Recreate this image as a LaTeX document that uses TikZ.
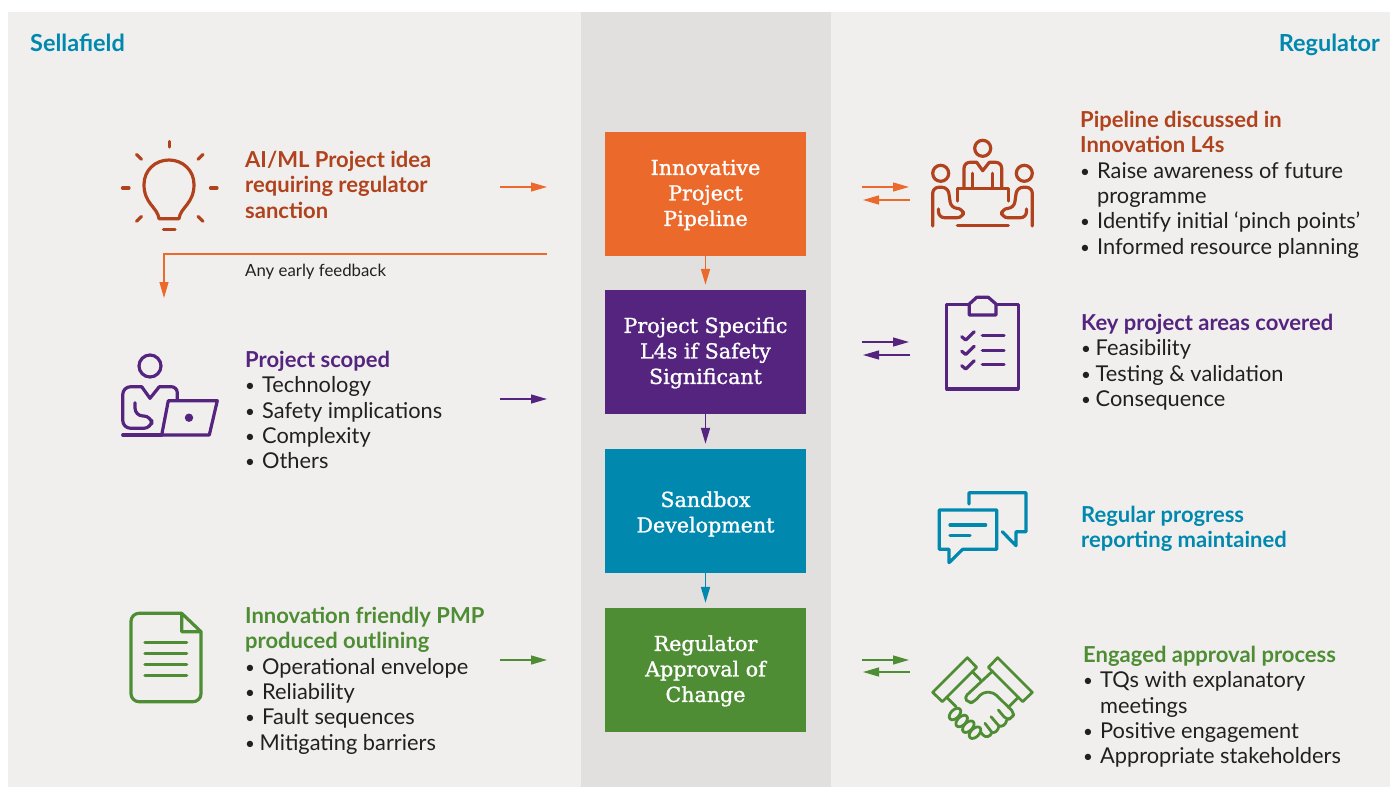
\documentclass[tikz,border=0pt]{standalone}
\usepackage{fontspec}
\usetikzlibrary{arrows.meta}
\setmainfont{Lato}
\newfontfamily\slabfont[FakeBold=1.2]{DejaVu Serif}
\definecolor{cOrange}{HTML}{EC692C}
\definecolor{cRust}{HTML}{B0431D}
\definecolor{cPurple}{HTML}{54247F}
\definecolor{cTeal}{HTML}{0088AF}
\definecolor{cGreen}{HTML}{4E8D34}
\definecolor{cPanel}{HTML}{F1EFEE}
\definecolor{cMid}{HTML}{E1E0DE}
\definecolor{cInk}{HTML}{231F20}
\newcommand{\bl}[2][17]{\makebox[#1pt][l]{\raisebox{1pt}{\fontsize{17}{17}\selectfont •}}#2}
\newcommand{\hd}[2]{{\bfseries\fontsize{22}{25.3}\selectfont\color{#1}#2}}
\newcommand{\stg}{\rule{0pt}{18pt}\rule[-5.2pt]{0pt}{5.2pt}}
\newcommand{\stgt}{\rule{0pt}{22.4pt}}
\newcommand{\stgd}{\rule[-5pt]{0pt}{5pt}}
\tikzset{
  x=1pt,y=-1pt,
  stage/.style={minimum width=201pt,minimum height=124pt,inner sep=0pt,text=white,align=center,
    font=\slabfont\fontsize{20.6}{25.5}\selectfont},
  txt/.style={anchor=north west,inner sep=0pt,align=left,text=cInk,
    font=\fontsize{21.8}{25.3}\selectfont},
  corner/.style={inner sep=0pt,font=\bfseries\fontsize{23.5}{24}\selectfont,text=cTeal},
  flow/.style={line width=1.3pt,-{Triangle[length=16pt,width=9pt]}},
  downflow/.style={line width=1.8pt,-{Triangle[length=16pt,width=9pt]},shorten >=5pt},
  icon/.style={line width=3.2pt,line cap=round,line join=round},
  iconthin/.style={line width=2.8pt,line cap=round,line join=round},
}
\begin{document}
\begin{tikzpicture}
\useasboundingbox (0,0) rectangle (1390,787);
\fill[white] (0,0) rectangle (1390,787);
\fill[cPanel] (8,12) rectangle (581,787);
\fill[cMid] (581,12) rectangle (831,787);
\fill[cPanel] (831,12) rectangle (1390,787);

\node[corner,anchor=base west] (sella) at (30,51) {Sellafield};
\node[corner,anchor=base east] (regul) at (1380,51) {Regulator};

% stages
\node[stage,fill=cOrange] (s1) at (705.5,194) {\stg Innovative\\Project\\\stg Pipeline};
\node[stage,fill=cPurple] (s2) at (705.5,352) {\stg Project Specific\\L4s if Safety\\\stg Significant};
\node[stage,fill=cTeal] (s3) at (705.5,511) {\stgt Sandbox\\\stgd Development};
\node[stage,fill=cGreen] (s4) at (705.5,670) {\stg Regulator\\Approval of\\\stg Change};
\draw[downflow,cOrange] (s1) -- (s2);
\draw[downflow,cPurple] (s2) -- (s3);
\draw[downflow,cTeal] (s3) -- (s4);

% left text
\node[txt] (t1) at (245,151) {\hd{cRust}{AI/ML Project idea}\\\hd{cRust}{requiring regulator}\\\hd{cRust}{sanction}};
\node[txt] (t2) at (245,351) {\hd{cPurple}{Project scoped}\\\bl{Technology}\\\bl{Safety implications}\\\bl{Complexity}\\\bl{Others}};
\node[txt] (t3) at (245,607) {\hd{cGreen}{Innovation friendly PMP}\\\hd{cGreen}{produced outlining}\\\bl{Operational envelope}\\\bl{Reliability}\\\bl{Fault sequences}\\\bl[14.5]{Mitigating barriers}};
\node[inner sep=0pt,anchor=west,text=cInk,font=\fontsize{16.8}{18}\selectfont] (fb) at (245,272) {Any early feedback};

% right text
\node[txt] (r1) at (1080,111) {\hd{cRust}{Pipeline discussed in}\\\hd{cRust}{Innovation L4s}\\\bl{Raise awareness of future}\\\hspace{17pt}programme\\\bl{Identify initial ‘pinch points’}\\\bl{Informed resource planning}};
\node[txt] (r2) at (1081,314) {\hd{cPurple}{Key project areas covered}\\\bl[14.5]{Feasibility}\\\bl[14.5]{Testing \& validation}\\\bl[14.5]{Consequence}};
\node[txt] (r3) at (1081,506) {\hd{cTeal}{Regular progress}\\\hd{cTeal}{reporting maintained}};
\node[txt] (r4) at (1083,646) {\hd{cGreen}{Engaged approval process}\\\bl{TQs with explanatory}\\\hspace{17pt}meetings\\\bl{Positive engagement}\\\bl{Appropriate stakeholders}};

% arrow ends
\coordinate (a1s) at (500,187); \coordinate (a1e) at (547,187);
\coordinate (a2s) at (500,399); \coordinate (a2e) at (547,399);
\coordinate (a3s) at (500,660); \coordinate (a3e) at (547,660);
\draw[flow,cOrange] (a1s) -- (a1e);
\draw[flow,cPurple] (a2s) -- (a2e);
\draw[flow,cGreen] (a3s) -- (a3e);
\coordinate (fbs) at (547,254); \coordinate (fbm) at (164,254); \coordinate (fbe) at (164,298);
\draw[flow,cOrange] (fbs) -- (fbm) -- (fbe);

\coordinate (b1a) at (862,187); \coordinate (b1b) at (909,187);
\coordinate (b1c) at (910,200); \coordinate (b1d) at (863,200);
\draw[flow,cOrange] (b1a) -- (b1b);
\draw[flow,cOrange] (b1c) -- (b1d);
\coordinate (b2a) at (862,342); \coordinate (b2b) at (909,342);
\coordinate (b2c) at (910,355); \coordinate (b2d) at (863,355);
\draw[flow,cPurple] (b2a) -- (b2b);
\draw[flow,cPurple] (b2c) -- (b2d);
\coordinate (b3a) at (862,660); \coordinate (b3b) at (909,660);
\coordinate (b3c) at (910,672); \coordinate (b3d) at (863,672);
\draw[flow,cGreen] (b3a) -- (b3b);
\draw[flow,cGreen] (b3c) -- (b3d);

% bulb
\begin{scope}[icon,cRust]
\draw (159,218.7) .. controls (157.5,207) and (144,204) .. (144,184.5)
  .. controls (144,170.5) and (155,160) .. (169,160)
  .. controls (183,160) and (194,170.5) .. (194,184.5)
  .. controls (194,204) and (180.5,207) .. (179,218.7) -- cycle;
\draw (169.7,141.5) -- (169.7,147);
\draw (122.5,188) -- (129,188);
\draw (210.5,188) -- (217,188);
\draw (136.5,154.5) -- (141.5,159.3);
\draw (203,154.5) -- (198,159.3);
\draw (136.5,221.3) -- (141.5,216.5);
\draw (203,221.3) -- (198,216.5);
\draw (163.5,229.5) -- (175,229.5);
\end{scope}

% person with laptop
\begin{scope}[icon,cPurple]
\draw (150,366) circle (11);
\draw[rounded corners=6pt] (177.3,400) -- (177.3,386.7) -- (159.3,386.7);
\draw (159.3,386.7) -- (150,398.3) -- (141.7,386.7);
\draw[rounded corners=8pt] (141.7,386.7) -- (122.7,386.7) -- (122.7,428.3) -- (151.7,428.3) -- (151.7,416) -- (135,416) -- (135,402.7);
\draw (168.3,400.7) -- (217.3,400.7) -- (209.3,435) -- (161.7,435) -- cycle;
\draw (122.7,435) -- (161.7,435);
\fill (189,417.7) circle (4.2);
\end{scope}

% document
\begin{scope}[icon,cGreen]
\draw[rounded corners=8pt] (181.7,613.3) -- (131,613.3) -- (131,701.7) -- (201,701.7) -- (201,631.7);
\draw (181.7,613.3) -- (201,631.7) -- (181.7,631.7) -- cycle;
\draw (145,642.7) -- (186.7,642.7);
\draw (145,653.7) -- (186.7,653.7);
\draw (145,664.7) -- (186.7,664.7);
\draw (145,675.7) -- (186.7,675.7);
\end{scope}

% meeting
\begin{scope}[icon,cRust]
\draw (982.7,148.3) circle (8);
\draw (940.7,173.3) circle (8);
\draw (1024.3,173.3) circle (8);
\draw[rounded corners=6pt] (964,186.7) -- (964,162.3) -- (976.7,162.3);
\draw (976.7,162.3) -- (982.7,170.7) -- (989.3,162.3);
\draw[rounded corners=6pt] (989.3,162.3) -- (1001.7,162.3) -- (1001.7,186.7);
\draw (972.3,173.3) -- (972.3,187);
\draw (992.7,173.3) -- (992.7,187);
\draw (957.3,201) -- (957.3,188.3) -- (1008.3,188.3) -- (1008.3,201);
\draw (957.3,225.3) -- (1008.3,225.3);
\draw[rounded corners=6pt] (932.7,226) -- (932.7,187.3) -- (948,187.3) -- (951,208) -- (963.3,208.7) -- (963.3,217.7) -- (938.5,217.7) -- (938.5,209);
\draw[rounded corners=6pt] (1032.3,226) -- (1032.3,187.3) -- (1017,187.3) -- (1014,208) -- (1001.7,208.7) -- (1001.7,217.7) -- (1026.5,217.7) -- (1026.5,209);
\end{scope}

% clipboard
\begin{scope}[icon,cPurple]
\draw (969.3,304.3) -- (946.7,304.3) -- (946.7,389) -- (1018.3,389) -- (1018.3,304.3) -- (996,304.3);
\draw (969.3,315) -- (969.3,304) -- (976.7,297.3) -- (988.3,297.3) -- (996,304) -- (996,315) -- cycle;
\draw (961.7,336.7) -- (965.7,340) -- (974.3,331.7);
\draw (961.7,351.2) -- (965.7,354.5) -- (974.3,346.2);
\draw (961.7,365.7) -- (965.7,369) -- (974.3,360.7);
\draw (982.3,335.7) -- (1004,335.7);
\draw (982.3,350.3) -- (1004,350.3);
\draw (982.3,364.7) -- (1004,364.7);
\end{scope}

% speech bubbles
\begin{scope}[icon,cTeal]
\draw (939.3,510) -- (996.7,510) -- (996.7,549.3) -- (962.7,549.3) -- (949,562.7) -- (949,549.3) -- (939.3,549.3) -- cycle;
\draw (950,525) -- (985.7,525);
\draw (950,535.7) -- (970,535.7);
\draw (969,504) -- (969,492.7) -- (1026,492.7) -- (1026,531.7) -- (1016,531.7) -- (1016,545.7) -- (1002.3,531.7);
\end{scope}

% handshake
\begin{scope}[iconthin,cGreen]
\draw (967.3,657.7) -- (976.7,667.3) -- (942.3,701.7) -- (932.7,692.3) -- cycle;
\draw (997.7,657.7) -- (988.3,667.3) -- (1022.7,701.7) -- (1032.3,692.3) -- cycle;
\draw (972.3,671.7) -- (980.7,680);
\draw (946.7,697.3) -- (956,706.7);
\draw (1018.3,697.3) -- (1008.3,707.3);
\draw[rounded corners=4pt] (992.7,671) -- (964,697.7) -- (969,703) -- (974,702) -- (982.7,692.3) -- (993.3,692.3) -- (1014.5,713) -- (1012,718) -- (1006.7,720) -- (998.3,710);
\draw (1006.7,720) .. controls (1006,725) and (1002,727) .. (999,726) -- (991,716.7);
\draw (999,726) .. controls (998,731) and (995,733) .. (992,732.5) -- (985,723.3);
\draw (992,732.5) .. controls (990,737) and (986,738) .. (983,735) -- (981,732.5);
\foreach \cx/\cy in {955/714,961.7/721,968.3/726.7,975/732.7}{
  \draw[rotate around={45:(\cx,\cy)}] (\cx,\cy) ellipse (7 and 4.2);
}
\end{scope}
\end{tikzpicture}
\end{document}
